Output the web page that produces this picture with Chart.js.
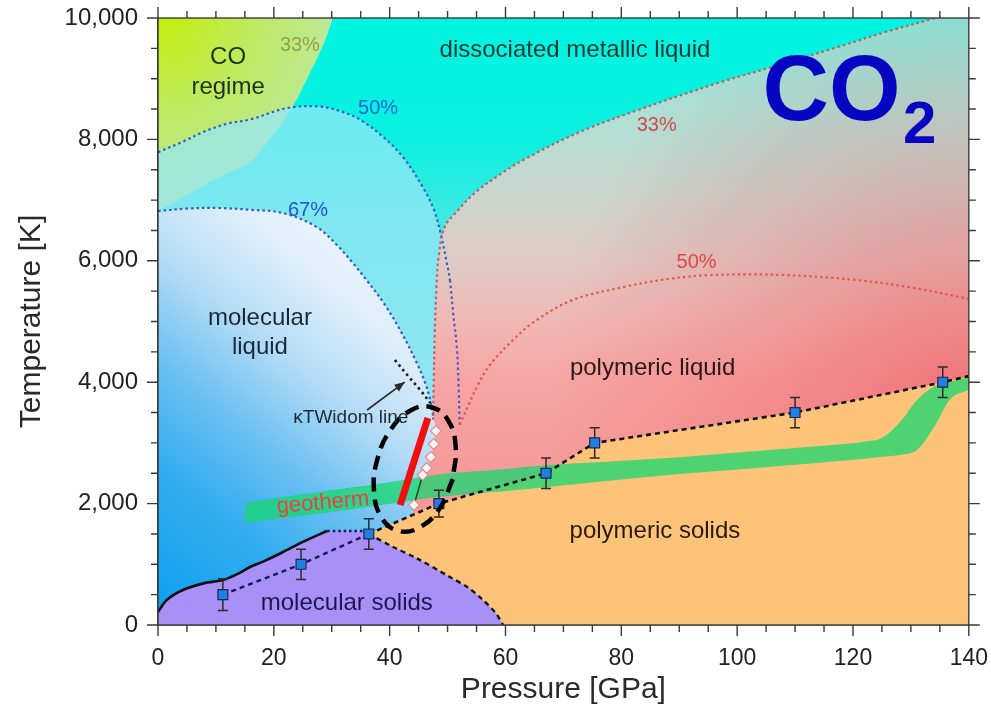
<!DOCTYPE html>
<html>
<head>
<meta charset="utf-8">
<script src="https://cdn.jsdelivr.net/npm/chart.js@4/dist/chart.umd.min.js"></script>
<style>
  html, body { margin: 0; padding: 0; background: #fff; }
</style>
</head>
<body>
<canvas id="phase" width="991" height="709"></canvas>
<script>
// CO2 phase diagram, pressure in GPa, temperature in K

const xTicks = [0, 20, 40, 60, 80, 100, 120, 140];
const yTicks = [0, 2000, 4000, 6000, 8000, 10000];

// melting points with error bars
const meltP = [11.2, 24.7, 36.4, 48.5, 67, 75.4, 110, 135.5];
const meltT = [500, 1000, 1500, 2000, 2500, 3000, 3500, 4000];
const meltErr = [260, 250, 250, 220, 250, 250, 250, 250];
const polyMeltEnd = [140, 4100];

// boundaries as [P, T]
const coRegimeEdge = [[0, 6830], [4, 7030], [8, 7250], [12, 7440], [16, 7630], [19.5, 8030], [23, 8500], [26, 9050], [28.5, 9550], [30.2, 10000]];
const blue50 = [[0, 7790], [4, 7950], [8, 8130], [12, 8260], [16, 8330], [22.3, 8517], [28, 8540], [32, 8450], [35, 8320], [38.9, 8040], [42.3, 7710], [45.7, 7216], [47.6, 6850], [48.8, 6450], [49.8, 6000], [50.4, 5684], [51, 5100], [51.6, 4580], [51.9, 3950], [52.1, 3300]];
const blue67 = [[0, 6820], [5, 6860], [10.2, 6870], [16, 6840], [21.6, 6787], [27.4, 6557], [31, 6250], [33.5, 5980], [36, 5684], [39, 5300], [41.8, 4860], [44.7, 4316], [46.2, 3970], [47, 3707], [47.5, 3450]];
const red33 = [[47.5, 3380], [47.6, 4000], [47.8, 4860], [48.1, 5600], [48.5, 6100], [49.5, 6557], [51.5, 6800], [54.7, 7117], [59, 7420], [64, 7710], [73, 8130], [82.9, 8484], [96.7, 8929], [107, 9220], [117.4, 9522], [126, 9780], [134.3, 10000]];
const red50 = [[52.1, 3300], [53.5, 3600], [55.2, 3950], [57.3, 4283], [61.3, 4695], [65, 5000], [71.6, 5354], [80.4, 5568], [88, 5700], [95.5, 5766], [108, 5766], [120.5, 5684], [130, 5560], [139.3, 5387], [140, 5370]];
const widom = [[40.9, 4366], [43.2, 4100], [45.3, 3870], [47, 3660]];
const molSolidTop = [[0, 214], [1.5, 412], [4.3, 577], [8, 690], [11.2, 741], [13.5, 830], [15.9, 956], [18.5, 1060], [21.6, 1203], [25, 1370], [29.2, 1549]];
const molSolidFlat = [[29.2, 1549], [36.4, 1549]];
const molSolidRight = [[36.4, 1500], [40.5, 1290], [44.7, 1098], [50.4, 791], [53.5, 620], [56.1, 412], [58.3, 200], [59.6, 0]];
const diamonds = [[44.2, 1977], [45.7, 2471], [46.4, 2587], [47.1, 2768], [47.6, 2982], [48, 3196]];
const redBar = [[41.8, 1977], [46.6, 3410]];
const ellipse = [[50.9, 2404], [48.6, 1916], [45.1, 1605], [41.5, 1552], [38.6, 1771], [37.3, 2204], [37.9, 2736], [40.2, 3221], [43.6, 3534], [47.2, 3588], [50.1, 3369], [51.4, 2936], [50.9, 2404]];
const widomArrow = [[36.1, 3542], [42.6, 4003]];

// geotherm band
const geoP = [15, 24, 33, 41, 48.5, 59, 67, 88, 105, 116, 122, 125, 128, 131, 134, 137, 140];
const geoUp = [2010, 2140, 2260, 2370, 2480, 2560, 2630, 2750, 2880, 2960, 3020, 3080, 3330, 3700, 3930, 4010, 4090];
const geoLow = [1680, 1790, 1900, 2010, 2110, 2200, 2270, 2470, 2600, 2690, 2740, 2770, 2800, 2880, 3260, 3740, 3870];

const notes = [
  {text: 'CO', p: 12.1, t: 9357, color: '#1d3316', size: 24},
  {text: 'regime', p: 12.1, t: 8863, color: '#1d3316', size: 24},
  {text: '33%', p: 24.5, t: 9555, color: '#98a050', size: 20},
  {text: 'dissociated metallic liquid', p: 72, t: 9473, color: '#143a36', size: 24},
  {text: '50%', p: 38, t: 8517, color: '#1f66d6', size: 20},
  {text: '33%', p: 86.1, t: 8237, color: '#cf4a4a', size: 20},
  {text: '67%', p: 25.9, t: 6837, color: '#2256cf', size: 20},
  {text: '50%', p: 93, t: 5980, color: '#de4a4a', size: 20},
  {text: 'molecular', p: 17.6, t: 5058, color: '#1a2838', size: 24},
  {text: 'liquid', p: 17.6, t: 4580, color: '#1a2838', size: 24},
  {text: 'polymeric liquid', p: 85.4, t: 4234, color: '#2b1818', size: 24},
  {text: 'κTWidom line', p: 33.3, t: 3410, color: '#1e2a36', size: 19},
  {text: 'geotherm', p: 28.5, t: 2010, color: '#e8443c', size: 22, rot: -5},
  {text: 'polymeric solids', p: 85.8, t: 1549, color: '#2a1a0e', size: 24},
  {text: 'molecular solids', p: 32.6, t: 362, color: '#1d1750', size: 24},
  {text: 'CO', p: 116.3, t: 8730, color: '#0606c2', size: 92, bold: true},
  {text: '2', p: 131.5, t: 8210, color: '#0606c2', size: 60, bold: true}
];

const FONT = "'Liberation Sans', Arial, Helvetica, sans-serif";

const xy = arr => arr.map(([x, y]) => ({x, y}));
const dup = p => [p, p]; // repeated point keeps a sharp corner under tension

function vGrad(chart, stops) {
  const {ctx, chartArea, scales} = chart;
  if (!chartArea) return 'transparent';
  const y0 = scales.y.getPixelForValue(10000), y1 = scales.y.getPixelForValue(0);
  const g = ctx.createLinearGradient(0, y0, 0, y1);
  stops.forEach(([t, c]) => g.addColorStop(1 - t / 10000, c));
  return g;
}

function lGrad(chart, a, b, stops) {
  const {ctx, chartArea, scales: {x, y}} = chart;
  if (!chartArea) return 'transparent';
  const g = ctx.createLinearGradient(x.getPixelForValue(a[0]), y.getPixelForValue(a[1]),
    x.getPixelForValue(b[0]), y.getPixelForValue(b[1]));
  stops.forEach(([s, c]) => g.addColorStop(s, c));
  return g;
}

function rGrad(chart, f, c, r, stops) {
  const {ctx, chartArea, scales} = chart;
  if (!chartArea) return 'transparent';
  const g = ctx.createRadialGradient(
    scales.x.getPixelForValue(f[0]), scales.y.getPixelForValue(f[1]), 0,
    scales.x.getPixelForValue(c[0]), scales.y.getPixelForValue(c[1]), r);
  stops.forEach(([s, col]) => g.addColorStop(s, col));
  return g;
}

function area(label, points, fill, bg, extra) {
  return Object.assign({label, data: xy(points), fill, backgroundColor: bg,
    borderColor: 'transparent', borderWidth: 0, pointRadius: 0, tension: 0.35}, extra);
}

function curve(label, points, color, width, dash, extra) {
  return Object.assign({label, data: xy(points), fill: false, borderColor: color,
    borderWidth: width, borderDash: dash || [], pointRadius: 0, tension: 0.35}, extra);
}

const topEdge = [[-1, 10000], [141, 10000]];
const dot = [2.5, 3];

const aquaPoly = [...dup([-3, 7700]), ...blue50.slice(0, 13), ...dup([49, 6350]),
  ...red33.slice(0, 5).reverse(), red33[0], ...dup([-3, 3380])];
const molLiquidPoly = [...dup([-3, 6820]), ...blue67, ...diamonds.slice().reverse(),
  diamonds[0], ...dup([44, -200]), ...dup([-3, -200])];
const polyMelt = [...meltP.slice(2).map((p, i) => [p, meltT[i + 2]]), polyMeltEnd];
const molMelt = meltP.slice(0, 3).map((p, i) => [p, meltT[i]]);
const purplePoly = [...molSolidTop, molSolidFlat[0], ...dup(molSolidFlat[1]), ...dup(molSolidRight[0]), ...molSolidRight.slice(1)];

const layers = [
  area('pink', topEdge, 'origin', ({chart}) => vGrad(chart, [[10000, '#86e6da'], [8500, '#ade0d6'], [7000, '#cbd5cc'],
    [6000, '#dfcac4'], [5000, '#efb8b4'], [4000, '#f6a5a4'], [2500, '#f69a9a'], [0, '#f49090']])),
  area('red glow', topEdge, 'origin', ({chart}) => rGrad(chart, [140, 3800], [140, 3800], 420,
    [[0, 'rgba(236,78,86,0.55)'], [0.5, 'rgba(236,78,86,0.25)'], [1, 'rgba(236,78,86,0)']])),
  area('dissociated', [[-3, 3380], red33[0], ...red33], 'end', ({chart}) => vGrad(chart,
    [[10000, '#00f4e1'], [8000, '#0cf0e0'], [6500, '#48e6e2'], [3000, '#90e0ee']])),
  area('CO regime', coRegimeEdge, 'end', ({chart}) => rGrad(chart, [0, 10000], [0, 10000], 270,
    [[0, '#c4ef0c'], [0.35, '#bdea60'], [0.6, '#bde88f'], [0.85, '#c3e6ac'], [1, '#bfe2c0']])),
  area('aqua', aquaPoly, 'shape', 'rgba(150,232,245,0.72)'),
  area('molecular liquid', molLiquidPoly, 'shape', ({chart}) => lGrad(chart, [0, 0], [45, 5300],
    [[0, '#0a9fee'], [0.3, '#32acf0'], [0.5, '#6cc0f2'], [0.7, '#b4dcf6'], [0.88, '#dcedfa'], [1, '#eaf4fc']])),
  area('polymeric solids', polyMelt, 'origin', '#fdc379', {tension: 0}),
  area('molecular solids', purplePoly, 'origin', '#a890f6', {tension: 0.3}),
  area('geotherm top', geoP.map((p, i) => [p, geoUp[i]]), null, 'rgba(24,214,112,0.76)'),
  area('geotherm bottom', geoP.map((p, i) => [p, geoLow[i]]), false, 'transparent'),
  curve('50% blue', blue50, '#2a63c8', 2.2, dot, {segment: {borderColor: c => c.p0.parsed.y < 6000 ? '#5a4fc4' : '#2a63c8'}}),
  curve('67% blue', blue67, '#2a5fcc', 2.2, dot),
  curve('33% red', red33, '#cc5a5a', 2.2, dot),
  curve('50% red', red50, '#e05a5a', 2.2, dot),
  curve('Widom', widom, '#1a1a1a', 2.6, [2.5, 3.5]),
  curve('molecular melting', molSolidTop, '#111', 2.6, [], {tension: 0.3}),
  curve('molecular flat', molSolidFlat, '#1a1a50', 2.4, [2.5, 3]),
  curve('molecular boundary', molSolidRight, '#161616', 2.4, [5, 4], {tension: 0.3}),
  curve('molecular phase line', molMelt, '#1a1a5a', 2.4, [5, 4], {tension: 0}),
  curve('polymeric melting', polyMelt, '#111', 2.6, [5, 4], {tension: 0}),
  curve('diamond link', diamonds.slice(0, 2), '#1c4a2a', 1.5, [], {tension: 0}),
  curve('red bar', redBar, '#f01010', 7, [], {tension: 0, borderCapStyle: 'butt'}),
  {label: 'diamonds', data: xy(diamonds), showLine: false, pointStyle: 'rectRot', pointRadius: 5.5,
    pointBackgroundColor: '#fff4f2', pointBorderColor: '#e08c8c', pointBorderWidth: 1.2},
  {label: 'melting points', data: meltP.map((p, i) => ({x: p, y: meltT[i]})), showLine: false,
    pointStyle: 'rect', pointRadius: 7, pointBackgroundColor: '#1f7fe6', pointBorderColor: '#1a2a44', pointBorderWidth: 1.2},
  curve('ellipse', ellipse, '#000', 4.5, [14, 8], {tension: 0.45})
];

// geotherm band fills down to its lower edge
const geoTopIdx = layers.findIndex(d => d.label === 'geotherm top');
layers[geoTopIdx].fill = geoTopIdx + 1;
layers.forEach((d, i) => { d.order = layers.length - i; });

const decor = {
  id: 'decor',
  beforeDatasetDraw(chart, args) {
    if (chart.data.datasets[args.index].label !== 'melting points') return;
    const {ctx, scales: {x, y}} = chart;
    ctx.save();
    ctx.strokeStyle = '#2b2b2b';
    ctx.lineWidth = 1.5;
    meltP.forEach((p, i) => {
      const px = x.getPixelForValue(p);
      const top = y.getPixelForValue(meltT[i] + meltErr[i]);
      const bot = y.getPixelForValue(meltT[i] - meltErr[i]);
      ctx.beginPath();
      ctx.moveTo(px, top); ctx.lineTo(px, bot);
      ctx.moveTo(px - 5, top); ctx.lineTo(px + 5, top);
      ctx.moveTo(px - 5, bot); ctx.lineTo(px + 5, bot);
      ctx.stroke();
    });
    ctx.restore();
  },
  afterDatasetsDraw(chart) {
    const {ctx, scales: {x, y}} = chart;
    ctx.save();
    ctx.textAlign = 'center';
    ctx.textBaseline = 'middle';
    notes.forEach(n => {
      ctx.save();
      ctx.translate(x.getPixelForValue(n.p), y.getPixelForValue(n.t));
      if (n.rot) ctx.rotate(n.rot * Math.PI / 180);
      ctx.font = (n.bold ? 'bold ' : '') + n.size + 'px ' + FONT;
      ctx.fillStyle = n.color;
      ctx.fillText(n.text, 0, 0);
      ctx.restore();
    });
    // arrow pointing at the Widom line
    const [a, b] = widomArrow.map(([p, t]) => [x.getPixelForValue(p), y.getPixelForValue(t)]);
    const ang = Math.atan2(b[1] - a[1], b[0] - a[0]);
    ctx.strokeStyle = '#2a2a2a';
    ctx.fillStyle = '#2a2a2a';
    ctx.lineWidth = 1.6;
    ctx.beginPath(); ctx.moveTo(a[0], a[1]); ctx.lineTo(b[0], b[1]); ctx.stroke();
    ctx.beginPath();
    ctx.moveTo(b[0], b[1]);
    ctx.lineTo(b[0] - 11 * Math.cos(ang - 0.38), b[1] - 11 * Math.sin(ang - 0.38));
    ctx.lineTo(b[0] - 11 * Math.cos(ang + 0.38), b[1] - 11 * Math.sin(ang + 0.38));
    ctx.closePath();
    ctx.fill();
    ctx.restore();
  },
  afterDraw(chart) {
    const {ctx, chartArea: a, scales: {x, y}} = chart;
    ctx.save();
    ctx.strokeStyle = '#3a3a3a';
    ctx.lineWidth = 1.4;
    ctx.strokeRect(a.left, a.top, a.right - a.left, a.bottom - a.top);
    ctx.beginPath();
    for (let p = x.min; p <= x.max; p += 5) {
      const px = x.getPixelForValue(p), len = p % 20 === 0 ? 11 : 7;
      ctx.moveTo(px, a.bottom); ctx.lineTo(px, a.bottom + len);
      ctx.moveTo(px, a.top); ctx.lineTo(px, a.top - len);
    }
    for (let t = y.min; t <= y.max; t += 500) {
      const py = y.getPixelForValue(t), len = t % 2000 === 0 ? 11 : 7;
      ctx.moveTo(a.left, py); ctx.lineTo(a.left - len, py);
      ctx.moveTo(a.right, py); ctx.lineTo(a.right + len, py);
    }
    ctx.stroke();
    ctx.restore();
  }
};

// invisible tick marks only push the labels away from the axis
const hiddenTicks = {display: true, drawOnChartArea: false, drawTicks: true, tickLength: 17, tickColor: 'transparent'};

new Chart(document.getElementById('phase').getContext('2d'), {
  type: 'line',
  data: {datasets: layers},
  options: {
    responsive: false,
    animation: false,
    events: [],
    layout: {padding: {top: 18, right: 22, left: 0, bottom: 0}},
    plugins: {
      legend: {display: false},
      tooltip: {enabled: false},
      colors: {enabled: false},
      filler: {propagate: false}
    },
    scales: {
      x: {
        type: 'linear',
        min: 0,
        max: 140,
        afterBuildTicks: s => { s.ticks = xTicks.map(v => ({value: v})); },
        afterFit: s => { s.height = 84; },
        grid: hiddenTicks,
        border: {display: true, color: '#3a3a3a', width: 1.4},
        ticks: {padding: 3, color: '#222', font: {family: FONT, size: 23}, maxRotation: 0, autoSkip: false},
        title: {display: true, text: 'Pressure [GPa]', color: '#2a2a2a',
          font: {family: FONT, size: 30}, padding: {top: 0, bottom: 1}}
      },
      y: {
        type: 'linear',
        min: 0,
        max: 10000,
        afterBuildTicks: s => { s.ticks = yTicks.map(v => ({value: v})); },
        afterFit: s => { s.width = 158; },
        grid: hiddenTicks,
        border: {display: true, color: '#3a3a3a', width: 1.4},
        ticks: {padding: 3, color: '#222', font: {family: FONT, size: 24},
          callback: v => v.toLocaleString('en-US')},
        title: {display: true, text: 'Temperature [K]', color: '#2a2a2a',
          font: {family: FONT, size: 30}, padding: {top: 14, bottom: 0}}
      }
    }
  },
  plugins: [decor]
});
</script>
</body>
</html>
